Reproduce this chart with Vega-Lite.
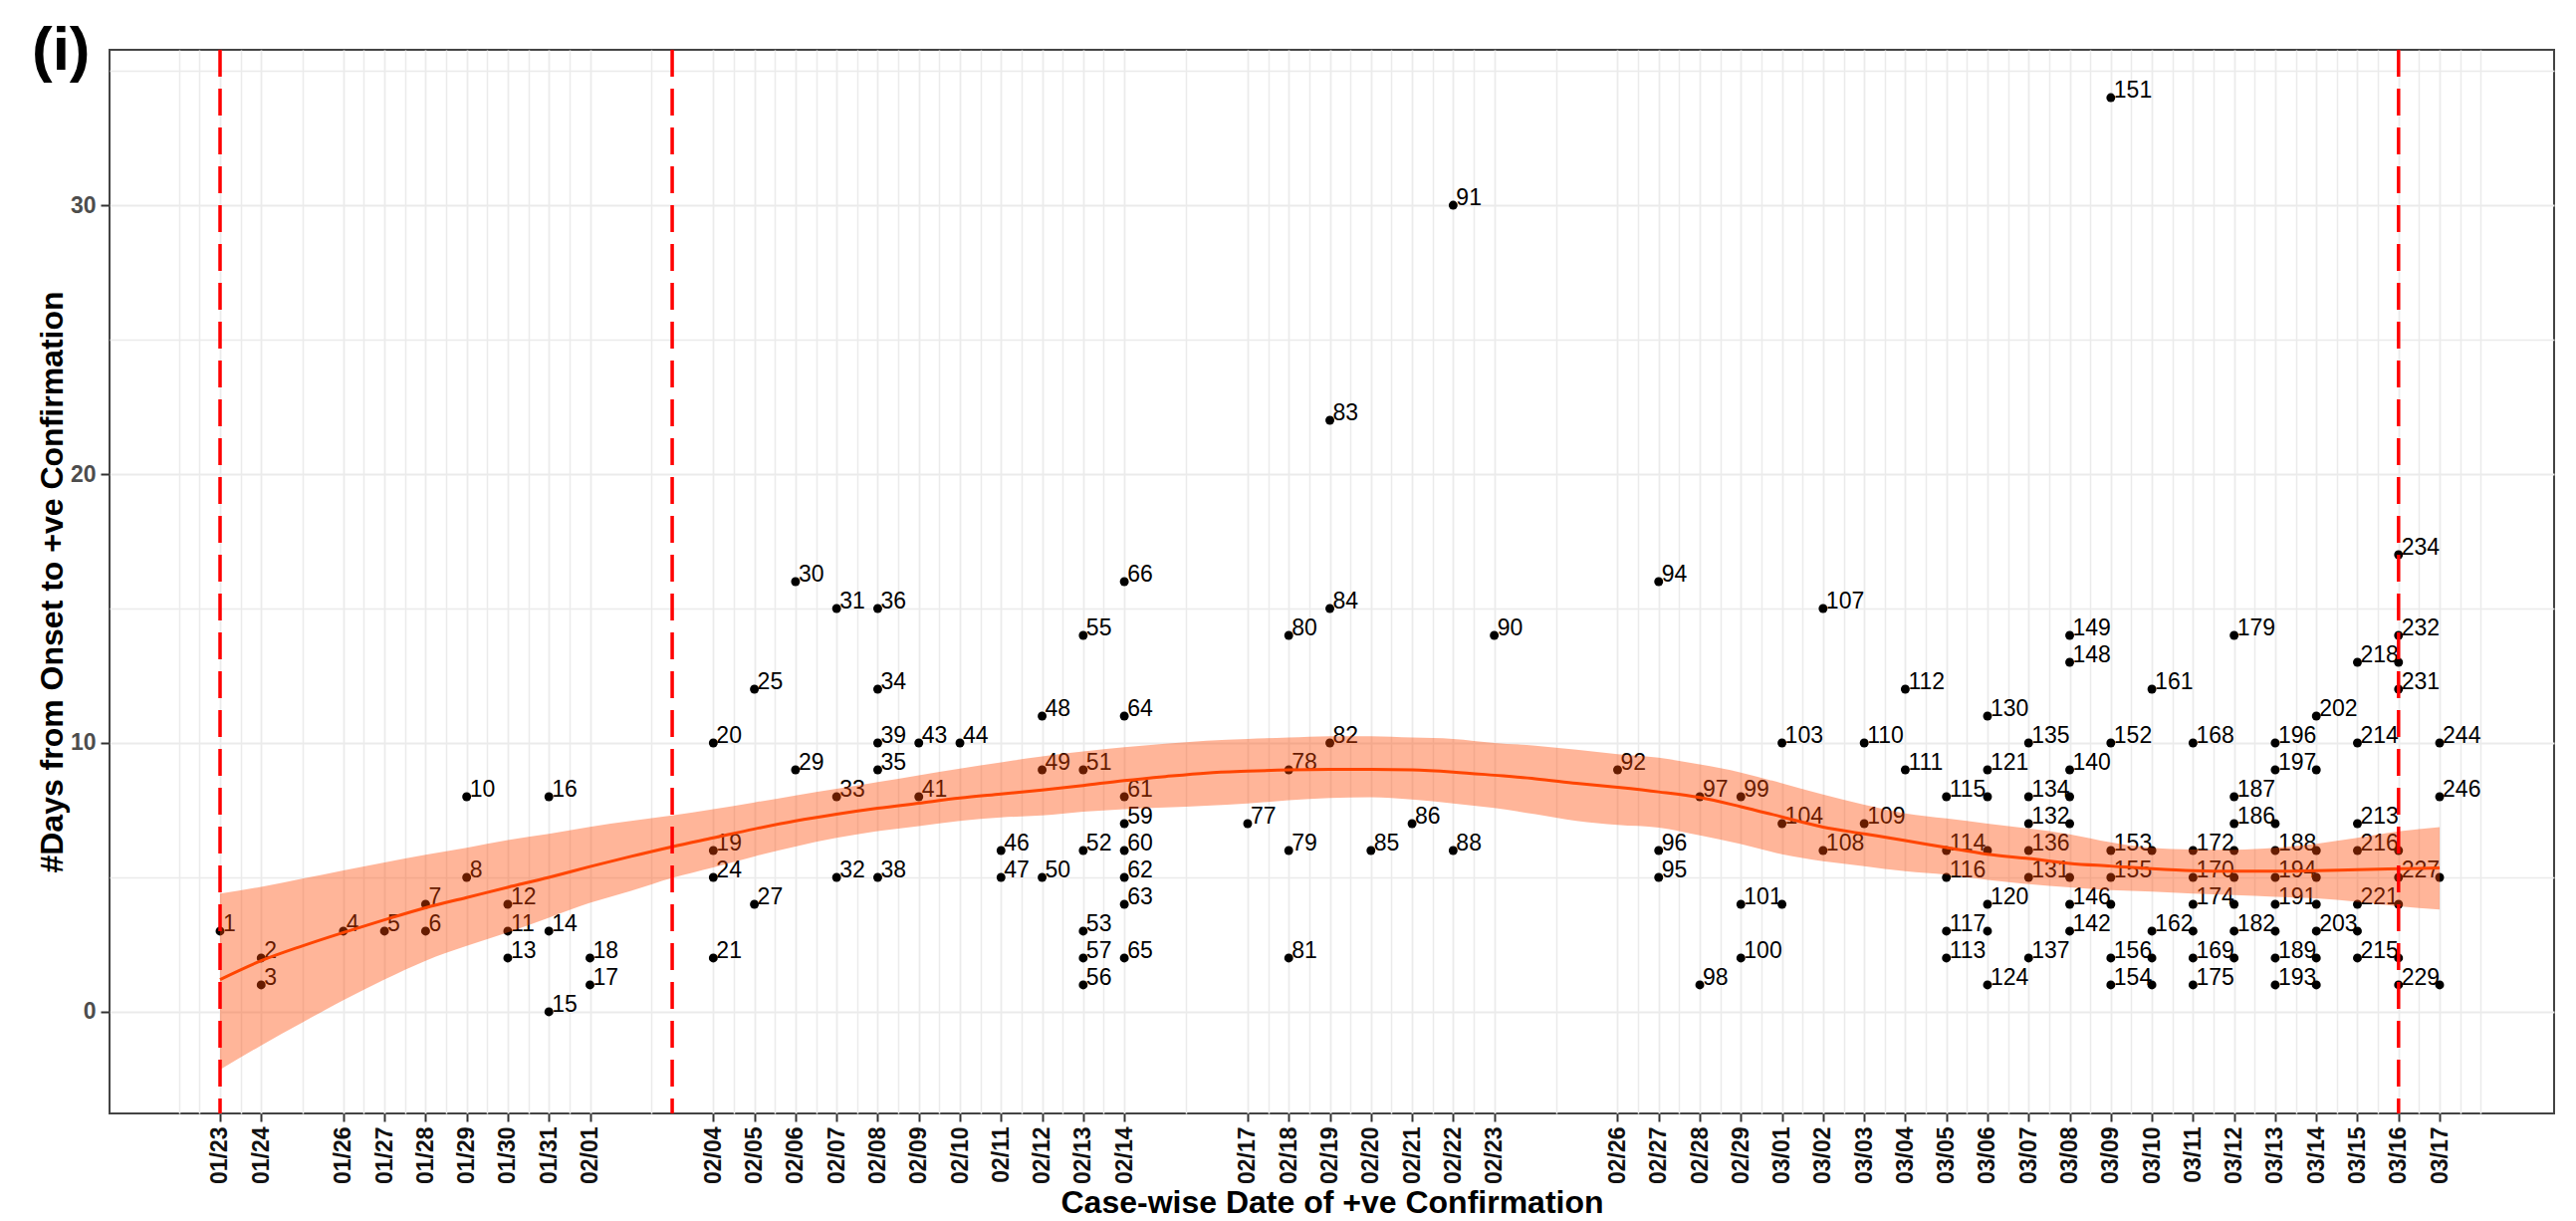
{
  "$schema": "https://vega.github.io/schema/vega-lite/v6.json",
  "width": 2455,
  "height": 1068,
  "autosize": {"type": "none"},
  "padding": {"left": 110, "top": 50, "right": 22, "bottom": 108},
  "background": "white",
  "title": {"text": "(i)", "anchor": "start", "frame": "group", "fontSize": 62, "fontWeight": "bold", "color": "black", "font": "Liberation Sans", "dx": -78, "offset": -97, "baseline": "bottom"},
  "config": {
    "font": "Liberation Sans",
    "view": {"stroke": "#444444", "strokeWidth": 2}
  },
  "resolve": {"scale": {"x": "shared", "y": "shared"}, "axis": {"x": "independent", "y": "independent"}},
  "datasets": {
    "points": [
      {"date": "2020-01-23T00:00:00", "days": 3, "label": "1"},
      {"date": "2020-01-24T00:00:00", "days": 2, "label": "2"},
      {"date": "2020-01-24T00:00:00", "days": 1, "label": "3"},
      {"date": "2020-01-26T00:00:00", "days": 3, "label": "4"},
      {"date": "2020-01-27T00:00:00", "days": 3, "label": "5"},
      {"date": "2020-01-28T00:00:00", "days": 3, "label": "6"},
      {"date": "2020-01-28T00:00:00", "days": 4, "label": "7"},
      {"date": "2020-01-29T00:00:00", "days": 5, "label": "8"},
      {"date": "2020-01-29T00:00:00", "days": 8, "label": "10"},
      {"date": "2020-01-30T00:00:00", "days": 4, "label": "12"},
      {"date": "2020-01-30T00:00:00", "days": 3, "label": "11"},
      {"date": "2020-01-30T00:00:00", "days": 2, "label": "13"},
      {"date": "2020-01-31T00:00:00", "days": 8, "label": "16"},
      {"date": "2020-01-31T00:00:00", "days": 3, "label": "14"},
      {"date": "2020-01-31T00:00:00", "days": 0, "label": "15"},
      {"date": "2020-02-01T00:00:00", "days": 2, "label": "18"},
      {"date": "2020-02-01T00:00:00", "days": 1, "label": "17"},
      {"date": "2020-02-04T00:00:00", "days": 10, "label": "20"},
      {"date": "2020-02-04T00:00:00", "days": 6, "label": "19"},
      {"date": "2020-02-04T00:00:00", "days": 5, "label": "24"},
      {"date": "2020-02-04T00:00:00", "days": 2, "label": "21"},
      {"date": "2020-02-05T00:00:00", "days": 12, "label": "25"},
      {"date": "2020-02-05T00:00:00", "days": 4, "label": "27"},
      {"date": "2020-02-06T00:00:00", "days": 16, "label": "30"},
      {"date": "2020-02-06T00:00:00", "days": 9, "label": "29"},
      {"date": "2020-02-07T00:00:00", "days": 15, "label": "31"},
      {"date": "2020-02-07T00:00:00", "days": 8, "label": "33"},
      {"date": "2020-02-07T00:00:00", "days": 5, "label": "32"},
      {"date": "2020-02-08T00:00:00", "days": 15, "label": "36"},
      {"date": "2020-02-08T00:00:00", "days": 12, "label": "34"},
      {"date": "2020-02-08T00:00:00", "days": 10, "label": "39"},
      {"date": "2020-02-08T00:00:00", "days": 9, "label": "35"},
      {"date": "2020-02-08T00:00:00", "days": 5, "label": "38"},
      {"date": "2020-02-09T00:00:00", "days": 10, "label": "43"},
      {"date": "2020-02-09T00:00:00", "days": 8, "label": "41"},
      {"date": "2020-02-10T00:00:00", "days": 10, "label": "44"},
      {"date": "2020-02-11T00:00:00", "days": 6, "label": "46"},
      {"date": "2020-02-11T00:00:00", "days": 5, "label": "47"},
      {"date": "2020-02-12T00:00:00", "days": 11, "label": "48"},
      {"date": "2020-02-12T00:00:00", "days": 9, "label": "49"},
      {"date": "2020-02-12T00:00:00", "days": 5, "label": "50"},
      {"date": "2020-02-13T00:00:00", "days": 14, "label": "55"},
      {"date": "2020-02-13T00:00:00", "days": 9, "label": "51"},
      {"date": "2020-02-13T00:00:00", "days": 6, "label": "52"},
      {"date": "2020-02-13T00:00:00", "days": 3, "label": "53"},
      {"date": "2020-02-13T00:00:00", "days": 2, "label": "57"},
      {"date": "2020-02-13T00:00:00", "days": 1, "label": "56"},
      {"date": "2020-02-14T00:00:00", "days": 16, "label": "66"},
      {"date": "2020-02-14T00:00:00", "days": 11, "label": "64"},
      {"date": "2020-02-14T00:00:00", "days": 8, "label": "61"},
      {"date": "2020-02-14T00:00:00", "days": 7, "label": "59"},
      {"date": "2020-02-14T00:00:00", "days": 6, "label": "60"},
      {"date": "2020-02-14T00:00:00", "days": 5, "label": "62"},
      {"date": "2020-02-14T00:00:00", "days": 4, "label": "63"},
      {"date": "2020-02-14T00:00:00", "days": 2, "label": "65"},
      {"date": "2020-02-17T00:00:00", "days": 7, "label": "77"},
      {"date": "2020-02-18T00:00:00", "days": 14, "label": "80"},
      {"date": "2020-02-18T00:00:00", "days": 9, "label": "78"},
      {"date": "2020-02-18T00:00:00", "days": 6, "label": "79"},
      {"date": "2020-02-18T00:00:00", "days": 2, "label": "81"},
      {"date": "2020-02-19T00:00:00", "days": 22, "label": "83"},
      {"date": "2020-02-19T00:00:00", "days": 15, "label": "84"},
      {"date": "2020-02-19T00:00:00", "days": 10, "label": "82"},
      {"date": "2020-02-20T00:00:00", "days": 6, "label": "85"},
      {"date": "2020-02-21T00:00:00", "days": 7, "label": "86"},
      {"date": "2020-02-22T00:00:00", "days": 30, "label": "91"},
      {"date": "2020-02-22T00:00:00", "days": 6, "label": "88"},
      {"date": "2020-02-23T00:00:00", "days": 14, "label": "90"},
      {"date": "2020-02-26T00:00:00", "days": 9, "label": "92"},
      {"date": "2020-02-27T00:00:00", "days": 16, "label": "94"},
      {"date": "2020-02-27T00:00:00", "days": 6, "label": "96"},
      {"date": "2020-02-27T00:00:00", "days": 5, "label": "95"},
      {"date": "2020-02-28T00:00:00", "days": 8, "label": "97"},
      {"date": "2020-02-28T00:00:00", "days": 1, "label": "98"},
      {"date": "2020-02-29T00:00:00", "days": 8, "label": "99"},
      {"date": "2020-02-29T00:00:00", "days": 4, "label": "101"},
      {"date": "2020-02-29T00:00:00", "days": 2, "label": "100"},
      {"date": "2020-03-01T00:00:00", "days": 10, "label": "103"},
      {"date": "2020-03-01T00:00:00", "days": 7, "label": "104"},
      {"date": "2020-03-01T00:00:00", "days": 4, "label": ""},
      {"date": "2020-03-02T00:00:00", "days": 15, "label": "107"},
      {"date": "2020-03-02T00:00:00", "days": 6, "label": "108"},
      {"date": "2020-03-03T00:00:00", "days": 10, "label": "110"},
      {"date": "2020-03-03T00:00:00", "days": 7, "label": "109"},
      {"date": "2020-03-04T00:00:00", "days": 12, "label": "112"},
      {"date": "2020-03-04T00:00:00", "days": 9, "label": "111"},
      {"date": "2020-03-05T00:00:00", "days": 8, "label": "115"},
      {"date": "2020-03-05T00:00:00", "days": 6, "label": "114"},
      {"date": "2020-03-05T00:00:00", "days": 5, "label": "116"},
      {"date": "2020-03-05T00:00:00", "days": 3, "label": "117"},
      {"date": "2020-03-05T00:00:00", "days": 2, "label": "113"},
      {"date": "2020-03-06T00:00:00", "days": 11, "label": "130"},
      {"date": "2020-03-06T00:00:00", "days": 9, "label": "121"},
      {"date": "2020-03-06T00:00:00", "days": 8, "label": ""},
      {"date": "2020-03-06T00:00:00", "days": 6, "label": ""},
      {"date": "2020-03-06T00:00:00", "days": 4, "label": "120"},
      {"date": "2020-03-06T00:00:00", "days": 3, "label": ""},
      {"date": "2020-03-06T00:00:00", "days": 1, "label": "124"},
      {"date": "2020-03-07T00:00:00", "days": 10, "label": "135"},
      {"date": "2020-03-07T00:00:00", "days": 8, "label": "134"},
      {"date": "2020-03-07T00:00:00", "days": 7, "label": "132"},
      {"date": "2020-03-07T00:00:00", "days": 6, "label": "136"},
      {"date": "2020-03-07T00:00:00", "days": 5, "label": "131"},
      {"date": "2020-03-07T00:00:00", "days": 2, "label": "137"},
      {"date": "2020-03-08T00:00:00", "days": 14, "label": "149"},
      {"date": "2020-03-08T00:00:00", "days": 13, "label": "148"},
      {"date": "2020-03-08T00:00:00", "days": 9, "label": "140"},
      {"date": "2020-03-08T00:00:00", "days": 8, "label": ""},
      {"date": "2020-03-08T00:00:00", "days": 7, "label": ""},
      {"date": "2020-03-08T00:00:00", "days": 5, "label": ""},
      {"date": "2020-03-08T00:00:00", "days": 4, "label": "146"},
      {"date": "2020-03-08T00:00:00", "days": 3, "label": "142"},
      {"date": "2020-03-09T00:00:00", "days": 34, "label": "151"},
      {"date": "2020-03-09T00:00:00", "days": 10, "label": "152"},
      {"date": "2020-03-09T00:00:00", "days": 6, "label": "153"},
      {"date": "2020-03-09T00:00:00", "days": 5, "label": "155"},
      {"date": "2020-03-09T00:00:00", "days": 4, "label": ""},
      {"date": "2020-03-09T00:00:00", "days": 2, "label": "156"},
      {"date": "2020-03-09T00:00:00", "days": 1, "label": "154"},
      {"date": "2020-03-10T00:00:00", "days": 12, "label": "161"},
      {"date": "2020-03-10T00:00:00", "days": 6, "label": ""},
      {"date": "2020-03-10T00:00:00", "days": 3, "label": "162"},
      {"date": "2020-03-10T00:00:00", "days": 2, "label": ""},
      {"date": "2020-03-10T00:00:00", "days": 1, "label": ""},
      {"date": "2020-03-11T00:00:00", "days": 10, "label": "168"},
      {"date": "2020-03-11T00:00:00", "days": 6, "label": "172"},
      {"date": "2020-03-11T00:00:00", "days": 5, "label": "170"},
      {"date": "2020-03-11T00:00:00", "days": 4, "label": "174"},
      {"date": "2020-03-11T00:00:00", "days": 3, "label": ""},
      {"date": "2020-03-11T00:00:00", "days": 2, "label": "169"},
      {"date": "2020-03-11T00:00:00", "days": 1, "label": "175"},
      {"date": "2020-03-12T00:00:00", "days": 14, "label": "179"},
      {"date": "2020-03-12T00:00:00", "days": 8, "label": "187"},
      {"date": "2020-03-12T00:00:00", "days": 7, "label": "186"},
      {"date": "2020-03-12T00:00:00", "days": 6, "label": ""},
      {"date": "2020-03-12T00:00:00", "days": 5, "label": ""},
      {"date": "2020-03-12T00:00:00", "days": 4, "label": ""},
      {"date": "2020-03-12T00:00:00", "days": 3, "label": "182"},
      {"date": "2020-03-12T00:00:00", "days": 2, "label": ""},
      {"date": "2020-03-13T00:00:00", "days": 10, "label": "196"},
      {"date": "2020-03-13T00:00:00", "days": 9, "label": "197"},
      {"date": "2020-03-13T00:00:00", "days": 7, "label": ""},
      {"date": "2020-03-13T00:00:00", "days": 6, "label": "188"},
      {"date": "2020-03-13T00:00:00", "days": 5, "label": "194"},
      {"date": "2020-03-13T00:00:00", "days": 4, "label": "191"},
      {"date": "2020-03-13T00:00:00", "days": 3, "label": ""},
      {"date": "2020-03-13T00:00:00", "days": 2, "label": "189"},
      {"date": "2020-03-13T00:00:00", "days": 1, "label": "193"},
      {"date": "2020-03-14T00:00:00", "days": 11, "label": "202"},
      {"date": "2020-03-14T00:00:00", "days": 9, "label": ""},
      {"date": "2020-03-14T00:00:00", "days": 6, "label": ""},
      {"date": "2020-03-14T00:00:00", "days": 5, "label": ""},
      {"date": "2020-03-14T00:00:00", "days": 4, "label": ""},
      {"date": "2020-03-14T00:00:00", "days": 3, "label": "203"},
      {"date": "2020-03-14T00:00:00", "days": 2, "label": ""},
      {"date": "2020-03-14T00:00:00", "days": 1, "label": ""},
      {"date": "2020-03-15T00:00:00", "days": 13, "label": "218"},
      {"date": "2020-03-15T00:00:00", "days": 10, "label": "214"},
      {"date": "2020-03-15T00:00:00", "days": 7, "label": "213"},
      {"date": "2020-03-15T00:00:00", "days": 6, "label": "216"},
      {"date": "2020-03-15T00:00:00", "days": 4, "label": "221"},
      {"date": "2020-03-15T00:00:00", "days": 3, "label": ""},
      {"date": "2020-03-15T00:00:00", "days": 2, "label": "215"},
      {"date": "2020-03-16T00:00:00", "days": 17, "label": "234"},
      {"date": "2020-03-16T00:00:00", "days": 14, "label": "232"},
      {"date": "2020-03-16T00:00:00", "days": 13, "label": ""},
      {"date": "2020-03-16T00:00:00", "days": 12, "label": "231"},
      {"date": "2020-03-16T00:00:00", "days": 6, "label": ""},
      {"date": "2020-03-16T00:00:00", "days": 5, "label": "227"},
      {"date": "2020-03-16T00:00:00", "days": 4, "label": ""},
      {"date": "2020-03-16T00:00:00", "days": 2, "label": ""},
      {"date": "2020-03-16T00:00:00", "days": 1, "label": "229"},
      {"date": "2020-03-17T00:00:00", "days": 10, "label": "244"},
      {"date": "2020-03-17T00:00:00", "days": 8, "label": "246"},
      {"date": "2020-03-17T00:00:00", "days": 5, "label": ""},
      {"date": "2020-03-17T00:00:00", "days": 1, "label": ""}
    ],
    "smooth": [
      {"date": "2020-01-23T00:00:00", "fit": 1.2, "lo": -2.15, "hi": 4.4},
      {"date": "2020-01-24T00:00:00", "fit": 1.9, "lo": -1.25, "hi": 4.65},
      {"date": "2020-01-25T00:00:00", "fit": 2.45, "lo": -0.4, "hi": 4.95},
      {"date": "2020-01-26T00:00:00", "fit": 2.95, "lo": 0.43, "hi": 5.26},
      {"date": "2020-01-27T00:00:00", "fit": 3.42, "lo": 1.2, "hi": 5.55},
      {"date": "2020-01-28T00:00:00", "fit": 3.87, "lo": 1.9, "hi": 5.84},
      {"date": "2020-01-29T00:00:00", "fit": 4.25, "lo": 2.45, "hi": 6.1},
      {"date": "2020-01-30T00:00:00", "fit": 4.63, "lo": 2.95, "hi": 6.39},
      {"date": "2020-01-31T00:00:00", "fit": 5.0, "lo": 3.5, "hi": 6.62},
      {"date": "2020-02-01T00:00:00", "fit": 5.4, "lo": 4.05, "hi": 6.88},
      {"date": "2020-02-02T00:00:00", "fit": 5.78, "lo": 4.5, "hi": 7.1},
      {"date": "2020-02-03T00:00:00", "fit": 6.14, "lo": 4.98, "hi": 7.3},
      {"date": "2020-02-04T00:00:00", "fit": 6.47, "lo": 5.37, "hi": 7.54},
      {"date": "2020-02-05T00:00:00", "fit": 6.8, "lo": 5.78, "hi": 7.79},
      {"date": "2020-02-06T00:00:00", "fit": 7.1, "lo": 6.15, "hi": 8.05},
      {"date": "2020-02-07T00:00:00", "fit": 7.35, "lo": 6.47, "hi": 8.3},
      {"date": "2020-02-08T00:00:00", "fit": 7.57, "lo": 6.72, "hi": 8.55},
      {"date": "2020-02-09T00:00:00", "fit": 7.76, "lo": 6.91, "hi": 8.8},
      {"date": "2020-02-10T00:00:00", "fit": 7.95, "lo": 7.1, "hi": 9.05},
      {"date": "2020-02-11T00:00:00", "fit": 8.1, "lo": 7.23, "hi": 9.28},
      {"date": "2020-02-12T00:00:00", "fit": 8.25, "lo": 7.3, "hi": 9.5},
      {"date": "2020-02-13T00:00:00", "fit": 8.42, "lo": 7.44, "hi": 9.68},
      {"date": "2020-02-14T00:00:00", "fit": 8.6, "lo": 7.54, "hi": 9.84},
      {"date": "2020-02-15T00:00:00", "fit": 8.75, "lo": 7.6, "hi": 9.97},
      {"date": "2020-02-16T00:00:00", "fit": 8.88, "lo": 7.67, "hi": 10.08},
      {"date": "2020-02-17T00:00:00", "fit": 8.95, "lo": 7.75, "hi": 10.15},
      {"date": "2020-02-18T00:00:00", "fit": 9.0, "lo": 7.87, "hi": 10.2},
      {"date": "2020-02-19T00:00:00", "fit": 9.02, "lo": 7.95, "hi": 10.25},
      {"date": "2020-02-20T00:00:00", "fit": 9.02, "lo": 7.98, "hi": 10.25},
      {"date": "2020-02-21T00:00:00", "fit": 9.0, "lo": 7.9, "hi": 10.2},
      {"date": "2020-02-22T00:00:00", "fit": 8.92, "lo": 7.75, "hi": 10.15},
      {"date": "2020-02-23T00:00:00", "fit": 8.8, "lo": 7.58, "hi": 10.0},
      {"date": "2020-02-24T00:00:00", "fit": 8.67, "lo": 7.35, "hi": 9.9},
      {"date": "2020-02-25T00:00:00", "fit": 8.5, "lo": 7.1, "hi": 9.75},
      {"date": "2020-02-26T00:00:00", "fit": 8.35, "lo": 6.95, "hi": 9.58},
      {"date": "2020-02-27T00:00:00", "fit": 8.18, "lo": 6.85, "hi": 9.45},
      {"date": "2020-02-28T00:00:00", "fit": 7.97, "lo": 6.56, "hi": 9.2},
      {"date": "2020-02-29T00:00:00", "fit": 7.63, "lo": 6.24, "hi": 8.9},
      {"date": "2020-03-01T00:00:00", "fit": 7.25, "lo": 5.86, "hi": 8.5},
      {"date": "2020-03-02T00:00:00", "fit": 6.87, "lo": 5.6, "hi": 8.08},
      {"date": "2020-03-03T00:00:00", "fit": 6.62, "lo": 5.42, "hi": 7.7},
      {"date": "2020-03-04T00:00:00", "fit": 6.37, "lo": 5.23, "hi": 7.38},
      {"date": "2020-03-05T00:00:00", "fit": 6.11, "lo": 5.1, "hi": 7.19},
      {"date": "2020-03-06T00:00:00", "fit": 5.86, "lo": 4.91, "hi": 7.0},
      {"date": "2020-03-07T00:00:00", "fit": 5.7, "lo": 4.75, "hi": 6.82},
      {"date": "2020-03-08T00:00:00", "fit": 5.52, "lo": 4.63, "hi": 6.6},
      {"date": "2020-03-09T00:00:00", "fit": 5.42, "lo": 4.53, "hi": 6.3},
      {"date": "2020-03-10T00:00:00", "fit": 5.32, "lo": 4.47, "hi": 6.1},
      {"date": "2020-03-11T00:00:00", "fit": 5.25, "lo": 4.4, "hi": 6.04},
      {"date": "2020-03-12T00:00:00", "fit": 5.23, "lo": 4.34, "hi": 6.03},
      {"date": "2020-03-13T00:00:00", "fit": 5.23, "lo": 4.28, "hi": 6.1},
      {"date": "2020-03-14T00:00:00", "fit": 5.25, "lo": 4.22, "hi": 6.25},
      {"date": "2020-03-15T00:00:00", "fit": 5.29, "lo": 4.09, "hi": 6.47},
      {"date": "2020-03-16T00:00:00", "fit": 5.32, "lo": 3.92, "hi": 6.71},
      {"date": "2020-03-17T00:00:00", "fit": 5.35, "lo": 3.8, "hi": 6.87}
    ],
    "vlines": [
      {"date": "2020-01-23T00:00:00"},
      {"date": "2020-02-03T00:00:00"},
      {"date": "2020-03-16T00:00:00"}
    ]
  },
  "layer": [
    {
      "data": {"name": "points"},
      "mark": {"type": "circle", "color": "black", "opacity": 1, "size": 80},
      "encoding": {
        "x": {
          "field": "date",
          "type": "temporal",
          "title": "Case-wise Date of +ve Confirmation",
          "scale": {"domain": [{"year": 2020, "month": 1, "date": 20, "hours": 7, "minutes": 28}, {"year": 2020, "month": 3, "date": 19, "hours": 18, "minutes": 50}]},
          "axis": {
            "orient": "bottom",
            "values": [
              {"year": 2020, "month": 1, "date": 23},
              {"year": 2020, "month": 1, "date": 24},
              {"year": 2020, "month": 1, "date": 26},
              {"year": 2020, "month": 1, "date": 27},
              {"year": 2020, "month": 1, "date": 28},
              {"year": 2020, "month": 1, "date": 29},
              {"year": 2020, "month": 1, "date": 30},
              {"year": 2020, "month": 1, "date": 31},
              {"year": 2020, "month": 2, "date": 1},
              {"year": 2020, "month": 2, "date": 4},
              {"year": 2020, "month": 2, "date": 5},
              {"year": 2020, "month": 2, "date": 6},
              {"year": 2020, "month": 2, "date": 7},
              {"year": 2020, "month": 2, "date": 8},
              {"year": 2020, "month": 2, "date": 9},
              {"year": 2020, "month": 2, "date": 10},
              {"year": 2020, "month": 2, "date": 11},
              {"year": 2020, "month": 2, "date": 12},
              {"year": 2020, "month": 2, "date": 13},
              {"year": 2020, "month": 2, "date": 14},
              {"year": 2020, "month": 2, "date": 17},
              {"year": 2020, "month": 2, "date": 18},
              {"year": 2020, "month": 2, "date": 19},
              {"year": 2020, "month": 2, "date": 20},
              {"year": 2020, "month": 2, "date": 21},
              {"year": 2020, "month": 2, "date": 22},
              {"year": 2020, "month": 2, "date": 23},
              {"year": 2020, "month": 2, "date": 26},
              {"year": 2020, "month": 2, "date": 27},
              {"year": 2020, "month": 2, "date": 28},
              {"year": 2020, "month": 2, "date": 29},
              {"year": 2020, "month": 3, "date": 1},
              {"year": 2020, "month": 3, "date": 2},
              {"year": 2020, "month": 3, "date": 3},
              {"year": 2020, "month": 3, "date": 4},
              {"year": 2020, "month": 3, "date": 5},
              {"year": 2020, "month": 3, "date": 6},
              {"year": 2020, "month": 3, "date": 7},
              {"year": 2020, "month": 3, "date": 8},
              {"year": 2020, "month": 3, "date": 9},
              {"year": 2020, "month": 3, "date": 10},
              {"year": 2020, "month": 3, "date": 11},
              {"year": 2020, "month": 3, "date": 12},
              {"year": 2020, "month": 3, "date": 13},
              {"year": 2020, "month": 3, "date": 14},
              {"year": 2020, "month": 3, "date": 15},
              {"year": 2020, "month": 3, "date": 16},
              {"year": 2020, "month": 3, "date": 17}
            ],
            "format": "%m/%d",
            "labelExpression": "timeFormat(datum.value, '%m/%d')",
            "labelAngle": 270,
            "labelFontSize": 23,
            "labelFontWeight": "bold",
            "labelColor": "#111111",
            "labelPadding": 5,
            "labelOverlap": false,
            "labelFlush": false,
            "labelBound": false,
            "tickSize": 8,
            "tickWidth": 2,
            "tickColor": "#333333",
            "grid": true,
            "gridColor": "#EBEBEB",
            "gridWidth": 1.8,
            "domain": false,
            "titleFontSize": 32,
            "titleFontWeight": "bold",
            "titleColor": "black",
            "titlePadding": 4
          }
        },
        "y": {
          "field": "days",
          "type": "quantitative",
          "title": "#Days from Onset to +ve Confirmation",
          "scale": {"domain": [-3.78, 35.78], "nice": false, "zero": false},
          "axis": {
            "orient": "left",
            "values": [0, 10, 20, 30],
            "labelFontSize": 23,
            "labelFontWeight": "bold",
            "labelColor": "#4D4D4D",
            "labelPadding": 5,
            "tickSize": 9,
            "tickWidth": 2,
            "tickColor": "#333333",
            "grid": true,
            "gridColor": "#EBEBEB",
            "gridWidth": 2,
            "domain": false,
            "titleFontSize": 32,
            "titleFontWeight": "bold",
            "titleColor": "black",
            "titlePadding": 1
          }
        }
      }
    },
    {
      "data": {"name": "points"},
      "mark": {"type": "text", "align": "left", "baseline": "alphabetic", "dx": 3, "fontSize": 23, "color": "black"},
      "encoding": {
        "x": {"field": "date", "type": "temporal", "axis": null, "scale": {"domain": [{"year": 2020, "month": 1, "date": 20, "hours": 7, "minutes": 28}, {"year": 2020, "month": 3, "date": 19, "hours": 18, "minutes": 50}]}},
        "y": {"field": "days", "type": "quantitative", "axis": null, "scale": {"domain": [-3.78, 35.78], "nice": false, "zero": false}},
        "text": {"field": "label"}
      }
    },
    {
      "data": {"name": "smooth"},
      "mark": {"type": "area", "color": "#FF4500", "opacity": 0.4, "interpolate": "monotone"},
      "encoding": {
        "x": {
          "field": "date",
          "type": "temporal",
          "title": null,
          "scale": {"domain": [{"year": 2020, "month": 1, "date": 20, "hours": 7, "minutes": 28}, {"year": 2020, "month": 3, "date": 19, "hours": 18, "minutes": 50}]},
          "axis": {
            "orient": "top",
            "values": [
              {"year": 2020, "month": 1, "date": 22},
              {"year": 2020, "month": 1, "date": 22, "hours": 12},
              {"year": 2020, "month": 1, "date": 23, "hours": 12},
              {"year": 2020, "month": 1, "date": 25},
              {"year": 2020, "month": 1, "date": 26, "hours": 12},
              {"year": 2020, "month": 1, "date": 27, "hours": 12},
              {"year": 2020, "month": 1, "date": 28, "hours": 12},
              {"year": 2020, "month": 1, "date": 29, "hours": 12},
              {"year": 2020, "month": 1, "date": 30, "hours": 12},
              {"year": 2020, "month": 1, "date": 31, "hours": 12},
              {"year": 2020, "month": 2, "date": 2, "hours": 12},
              {"year": 2020, "month": 2, "date": 4, "hours": 12},
              {"year": 2020, "month": 2, "date": 5, "hours": 12},
              {"year": 2020, "month": 2, "date": 6, "hours": 12},
              {"year": 2020, "month": 2, "date": 7, "hours": 12},
              {"year": 2020, "month": 2, "date": 8, "hours": 12},
              {"year": 2020, "month": 2, "date": 9, "hours": 12},
              {"year": 2020, "month": 2, "date": 10, "hours": 12},
              {"year": 2020, "month": 2, "date": 11, "hours": 12},
              {"year": 2020, "month": 2, "date": 12, "hours": 12},
              {"year": 2020, "month": 2, "date": 13, "hours": 12},
              {"year": 2020, "month": 2, "date": 15, "hours": 12},
              {"year": 2020, "month": 2, "date": 17, "hours": 12},
              {"year": 2020, "month": 2, "date": 18, "hours": 12},
              {"year": 2020, "month": 2, "date": 19, "hours": 12},
              {"year": 2020, "month": 2, "date": 20, "hours": 12},
              {"year": 2020, "month": 2, "date": 21, "hours": 12},
              {"year": 2020, "month": 2, "date": 22, "hours": 12},
              {"year": 2020, "month": 2, "date": 24, "hours": 12},
              {"year": 2020, "month": 2, "date": 26, "hours": 12},
              {"year": 2020, "month": 2, "date": 27, "hours": 12},
              {"year": 2020, "month": 2, "date": 28, "hours": 12},
              {"year": 2020, "month": 2, "date": 29, "hours": 12},
              {"year": 2020, "month": 3, "date": 1, "hours": 12},
              {"year": 2020, "month": 3, "date": 2, "hours": 12},
              {"year": 2020, "month": 3, "date": 3, "hours": 12},
              {"year": 2020, "month": 3, "date": 4, "hours": 12},
              {"year": 2020, "month": 3, "date": 5, "hours": 12},
              {"year": 2020, "month": 3, "date": 6, "hours": 12},
              {"year": 2020, "month": 3, "date": 7, "hours": 12},
              {"year": 2020, "month": 3, "date": 8, "hours": 12},
              {"year": 2020, "month": 3, "date": 9, "hours": 12},
              {"year": 2020, "month": 3, "date": 10, "hours": 12},
              {"year": 2020, "month": 3, "date": 11, "hours": 12},
              {"year": 2020, "month": 3, "date": 12, "hours": 12},
              {"year": 2020, "month": 3, "date": 13, "hours": 12},
              {"year": 2020, "month": 3, "date": 14, "hours": 12},
              {"year": 2020, "month": 3, "date": 15, "hours": 12},
              {"year": 2020, "month": 3, "date": 16, "hours": 12},
              {"year": 2020, "month": 3, "date": 17, "hours": 12},
              {"year": 2020, "month": 3, "date": 18}
            ],
            "labels": false,
            "ticks": false,
            "domain": false,
            "grid": true,
            "gridColor": "#EBEBEB",
            "gridWidth": 1.5
          }
        },
        "y": {
          "field": "lo",
          "type": "quantitative",
          "title": null,
          "scale": {"domain": [-3.78, 35.78], "nice": false, "zero": false},
          "axis": {
            "orient": "right",
            "values": [5, 15, 25, 35],
            "labels": false,
            "ticks": false,
            "domain": false,
            "grid": true,
            "gridColor": "#EBEBEB",
            "gridWidth": 1.5
          }
        },
        "y2": {"field": "hi"}
      }
    },
    {
      "data": {"name": "smooth"},
      "mark": {"type": "line", "color": "#FF4500", "strokeWidth": 3, "interpolate": "monotone"},
      "encoding": {
        "x": {"field": "date", "type": "temporal", "axis": null, "scale": {"domain": [{"year": 2020, "month": 1, "date": 20, "hours": 7, "minutes": 28}, {"year": 2020, "month": 3, "date": 19, "hours": 18, "minutes": 50}]}},
        "y": {"field": "fit", "type": "quantitative", "axis": null, "scale": {"domain": [-3.78, 35.78], "nice": false, "zero": false}}
      }
    },
    {
      "data": {"name": "vlines"},
      "mark": {"type": "rule", "color": "red", "strokeWidth": 3.5, "strokeDash": [27, 12]},
      "encoding": {
        "x": {"field": "date", "type": "temporal", "axis": null, "scale": {"domain": [{"year": 2020, "month": 1, "date": 20, "hours": 7, "minutes": 28}, {"year": 2020, "month": 3, "date": 19, "hours": 18, "minutes": 50}]}}
      }
    }
  ]
}
